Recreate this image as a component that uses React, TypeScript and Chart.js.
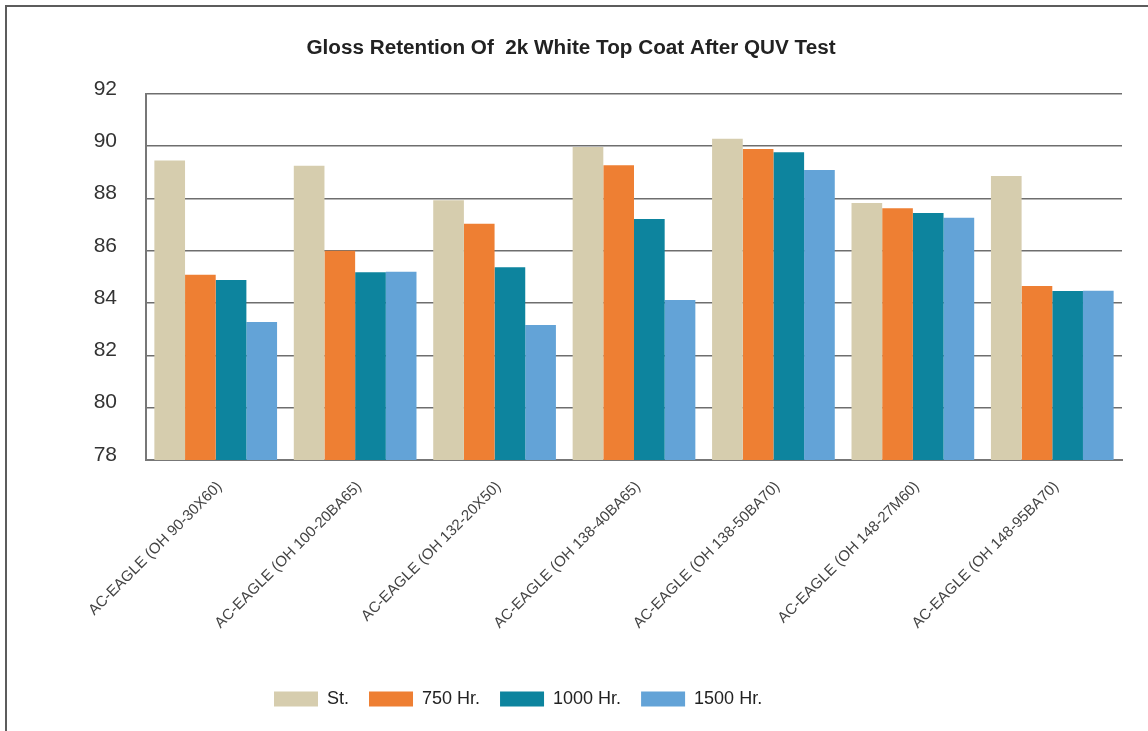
import React, { useEffect, useRef } from 'react';
import { Chart, registerables } from 'chart.js';

Chart.register(...registerables);

const titleText = 'Gloss Retention Of  2k White Top Coat After QUV Test';

const categories = [
  'AC-EAGLE (OH 90-30X60)',
  'AC-EAGLE (OH 100-20BA65)',
  'AC-EAGLE (OH 132-20X50)',
  'AC-EAGLE (OH 138-40BA65)',
  'AC-EAGLE (OH 138-50BA70)',
  'AC-EAGLE (OH 148-27M60)',
  'AC-EAGLE (OH 148-95BA70)',
];

const seriesNames = ['St.', '750 Hr.', '1000 Hr.', '1500 Hr.'];
const stValues = [89.45, 89.25, 87.93, 89.97, 90.28, 87.83, 88.86];
const hr750Values = [85.08, 86.0, 87.03, 89.27, 89.89, 87.63, 84.65];
const hr1000Values = [84.88, 85.18, 85.37, 87.21, 89.77, 87.44, 84.46];
const hr1500Values = [83.28, 85.2, 83.16, 84.12, 89.09, 87.26, 84.47];
const seriesColors = ['#d6cdae', '#ee7f33', '#0d849e', '#63a3d7'];

const yMin = 78;
const yMax = 92;
const yStep = 2;

const FONT = "'Liberation Sans', Arial, Helvetica, sans-serif";

export default function App() {
  const canvasRef = useRef<HTMLCanvasElement | null>(null);

  useEffect(() => {
    const canvas = canvasRef.current;
    if (!canvas) return;
    const values = [stValues, hr750Values, hr1000Values, hr1500Values];
    const legendPadding = 20;
    const boxShift = {
      id: 'boxShift',
      afterLayout(chart: any) {
        if (chart.legend) {
          chart.legend.left = 274 - legendPadding;
        }
        if (chart.titleBlock) {
          chart.titleBlock.left += 10;
          chart.titleBlock.right += 10;
        }
      },
    };
    const chart = new Chart(canvas, {
      type: 'bar',
      data: {
        labels: categories,
        datasets: seriesNames.map((name, i) => ({
          label: name,
          data: values[i],
          backgroundColor: seriesColors[i],
          borderWidth: 0,
          categoryPercentage: 0.88,
          barPercentage: 1.0,
        })),
      },
      options: {
        responsive: false,
        animation: false,
        layout: { padding: { left: 0, right: 26, top: 0, bottom: 13 } },
        plugins: {
          tooltip: { enabled: false },
          title: {
            display: true,
            text: titleText,
            color: '#222',
            font: { family: FONT, size: 20.7, weight: 'bold' },
            padding: { top: 36, bottom: 33 },
          },
          legend: {
            display: true,
            position: 'bottom',
            align: 'start',
            labels: {
              boxWidth: 44,
              boxHeight: 15,
              padding: legendPadding,
              color: '#222',
              font: { family: FONT, size: 18 },
            },
          },
        },
        scales: {
          x: {
            grid: { display: false },
            border: { display: true, color: '#777', width: 2 },
            ticks: {
              color: '#444',
              font: { family: FONT, size: 15 },
              minRotation: 45,
              maxRotation: 45,
              padding: 10,
              labelOffset: 4,
              autoSkip: false,
            },
            afterFit(scale: any) {
              scale.height = 210;
            },
          },
          y: {
            min: yMin,
            max: yMax,
            grid: { color: '#6e6e6e', lineWidth: 1.5, drawTicks: false },
            border: { display: true, color: '#777', width: 2 },
            ticks: {
              stepSize: yStep,
              color: '#333',
              font: { family: FONT, size: 21 },
              padding: 29,
              labelOffset: -5,
            },
            afterFit(scale: any) {
              scale.width = 146;
            },
          },
        },
      },
      plugins: [boxShift],
    } as any);
    return () => chart.destroy();
  }, []);

  return (
    <div
      style={{
        position: 'fixed',
        left: 0,
        top: 0,
        width: 1148,
        height: 731,
        overflow: 'hidden',
        background: '#fff',
      }}
    >
      <div
        style={{
          position: 'absolute',
          left: 5,
          top: 5,
          width: 1200,
          height: 800,
          border: '2px solid #5c5c5c',
          boxSizing: 'border-box',
        }}
      />
      <canvas
        ref={canvasRef}
        width={1148}
        height={731}
        style={{ position: 'absolute', left: 0, top: 0, width: 1148, height: 731 }}
      />
    </div>
  );
}
